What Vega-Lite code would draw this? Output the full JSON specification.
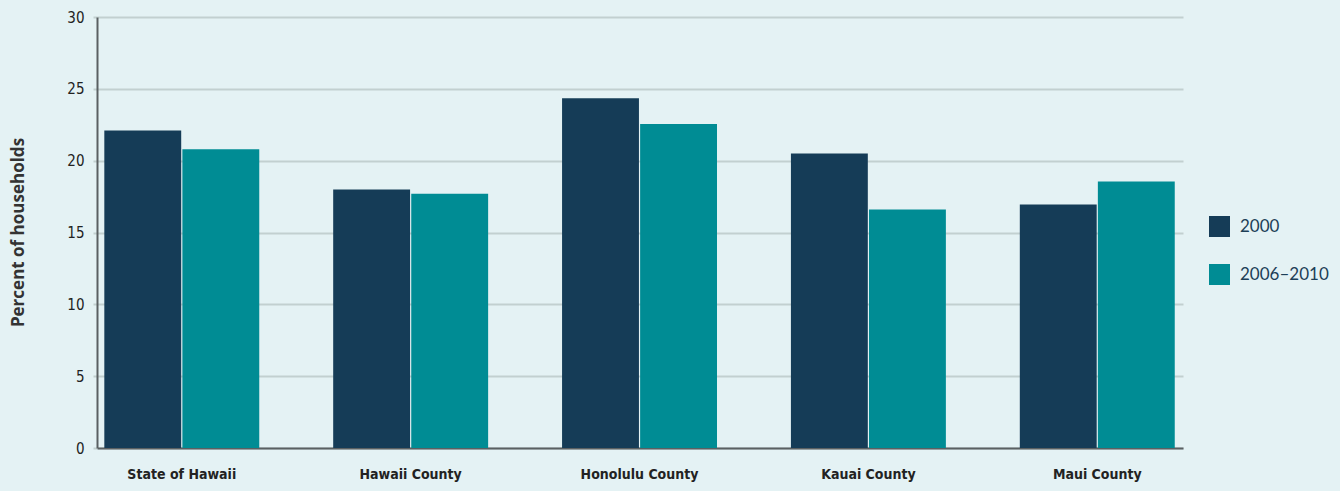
{
  "$schema": "https://vega.github.io/schema/vega-lite/v6.json",
  "autosize": {"type": "none"},
  "padding": {"left": 97, "top": 17, "right": 157, "bottom": 43},
  "width": 1086,
  "height": 431,
  "background": "#e4f2f4",
  "config": {
    "view": {"stroke": null},
    "axis": {"labelFont": "'DejaVu Sans Condensed', 'Roboto'", "titleFont": "Open Sans"}
  },
  "data": {
    "values": [
      {"area": "State of Hawaii", "period": "2000", "pct": 22.1},
      {"area": "State of Hawaii", "period": "2006–2010", "pct": 20.8},
      {"area": "Hawaii County", "period": "2000", "pct": 18.0},
      {"area": "Hawaii County", "period": "2006–2010", "pct": 17.7},
      {"area": "Honolulu County", "period": "2000", "pct": 24.35},
      {"area": "Honolulu County", "period": "2006–2010", "pct": 22.55},
      {"area": "Kauai County", "period": "2000", "pct": 20.5},
      {"area": "Kauai County", "period": "2006–2010", "pct": 16.6},
      {"area": "Maui County", "period": "2000", "pct": 16.95},
      {"area": "Maui County", "period": "2006–2010", "pct": 18.55}
    ]
  },
  "mark": {"type": "bar"},
  "encoding": {
    "x": {
      "field": "area",
      "type": "nominal",
      "sort": null,
      "scale": {"paddingInner": 0.323, "paddingOuter": 0.034, "align": 0.47},
      "axis": {
        "title": null,
        "labelAngle": 0,
        "labelFontSize": 14,
        "labelFontWeight": "bold",
        "labelColor": "#222222",
        "labelPadding": 19,
        "ticks": false,
        "domainColor": "#5a6062",
        "domainWidth": 2
      }
    },
    "xOffset": {
      "field": "period",
      "type": "nominal",
      "scale": {"paddingInner": 0.015}
    },
    "y": {
      "field": "pct",
      "type": "quantitative",
      "scale": {"domain": [0, 30]},
      "axis": {
        "title": "Percent of households",
        "values": [0, 5, 10, 15, 20, 25, 30],
        "labelFontSize": 15,
        "labelColor": "#222222",
        "labelPadding": 9,
        "tickSize": 4,
        "tickColor": "#c2d0d0",
        "tickWidth": 2,
        "gridColor": "#c2d0d0",
        "gridWidth": 2,
        "domainColor": "#5a6062",
        "domainWidth": 2,
        "titleFontSize": 17,
        "titleFontWeight": "bold",
        "titleColor": "#333333",
        "titleX": -79,
        "titleY": 215,
        "titleAngle": -90,
        "titleAlign": "center",
        "titleBaseline": "middle"
      }
    },
    "color": {
      "field": "period",
      "type": "nominal",
      "scale": {"domain": ["2000", "2006–2010"], "range": ["#153c57", "#008c94"]},
      "legend": {
        "title": null,
        "orient": "none",
        "legendX": 1112,
        "legendY": 199,
        "symbolType": "square",
        "symbolSize": 441,
        "symbolStrokeWidth": 0,
        "labelFont": "Lato",
        "labelFontSize": 17,
        "labelColor": "#1d3f57",
        "labelOffset": 10,
        "rowPadding": 27
      }
    }
  }
}
